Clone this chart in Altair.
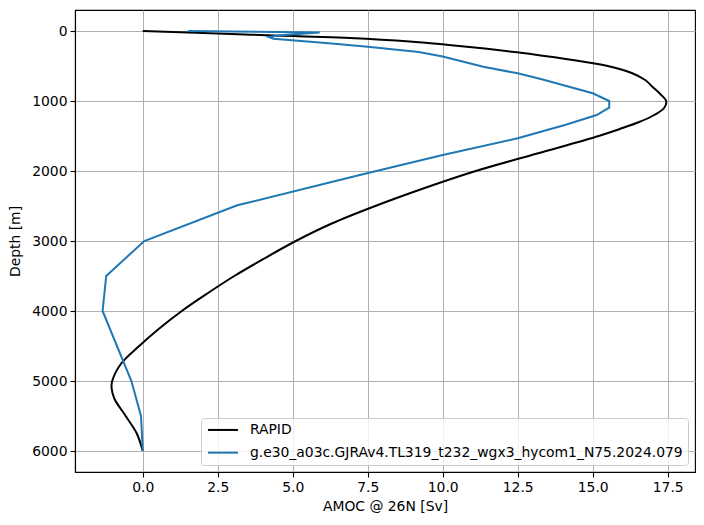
import altair as alt
import pandas as pd

# RAPID observational profile
rapid_depth = [0, 50, 100, 150, 200, 250, 300, 400, 500, 600, 700, 800, 900, 1000, 1100,
               1200, 1300, 1400, 1500, 1750, 2000, 2250, 2500, 2750, 3000, 3250, 3500,
               3750, 4000, 4250, 4500, 4750, 5000, 5100, 5250, 5500, 5750, 6000]
rapid_amoc = [0.0, 3.4, 6.9, 8.9, 10.2, 11.4, 12.4, 14.1, 15.5, 16.3, 16.75, 17.0, 17.25,
              17.45, 17.38, 17.05, 16.55, 15.9, 15.2, 13.15, 11.1, 9.35, 7.75, 6.3, 5.1,
              4.05, 3.05, 2.15, 1.3, 0.55, -0.12, -0.72, -1.02, -1.04, -0.95, -0.57, -0.2, 0.0]

# model profile
model_depth = [0, 20, 60, 85, 110, 175, 225, 300, 365, 510, 605, 690, 771, 890, 1000,
               1095, 1200, 1340, 1533, 1771, 2060, 2490, 3000, 3500, 4000, 5000, 5500, 6000]
model_amoc = [1.5, 5.9, 4.6, 4.2, 4.35, 6.2, 7.5, 9.2, 10.0, 11.35, 12.5, 13.3, 14.0,
              15.0, 15.55, 15.55, 15.13, 14.1, 12.5, 10.0, 7.2, 3.15, 0.05, -1.22, -1.34,
              -0.38, -0.06, 0.0]

names = ["RAPID", "g.e30_a03c.GJRAv4.TL319_t232_wgx3_hycom1_N75.2024.079"]
colors = ["black", "#1f77b4"]

rapid = pd.DataFrame({"amoc": rapid_amoc, "depth": rapid_depth, "series": names[0],
                      "idx": range(len(rapid_depth))})
model = pd.DataFrame({"amoc": model_amoc, "depth": model_depth, "series": names[1],
                      "idx": range(len(model_depth))})

font = "DejaVu Sans"
fs = 13.9

xenc = alt.X("amoc:Q", title="AMOC @ 26N [Sv]",
             scale=alt.Scale(domain=[-2.26, 18.41], nice=False, zero=False),
             axis=alt.Axis(values=[0, 2.5, 5, 7.5, 10, 12.5, 15, 17.5], format=".1f",
                           titlePadding=6))
yenc = alt.Y("depth:Q", title="Depth [m]",
             scale=alt.Scale(domain=[-300, 6300], nice=False, zero=False, reverse=True),
             axis=alt.Axis(values=[0, 1000, 2000, 3000, 4000, 5000, 6000], format="d",
                           titlePadding=9))
cenc = alt.Color("series:N", scale=alt.Scale(domain=names, range=colors),
                 legend=alt.Legend(title=None, orient="bottom-right", offset=7,
                                   symbolType="M-1,0H5", symbolSize=100,
                                   symbolStrokeWidth=2, labelLimit=0,
                                   labelOffset=30, rowPadding=7.7, padding=5,
                                   strokeColor="#cccccc", cornerRadius=3,
                                   fillColor="rgba(255,255,255,0.8)",
                                   labelFont=font, labelFontSize=fs, labelColor="black"))

l1 = alt.Chart(rapid).mark_line(strokeWidth=2, interpolate="catmull-rom").encode(
    x=xenc, y=yenc, color=cenc, order="idx:Q")
l2 = alt.Chart(model).mark_line(strokeWidth=2).encode(
    x=xenc, y=yenc, color=cenc, order="idx:Q")

chart = alt.layer(l1, l2).properties(
    width=620, height=462,
    background="white",
    autosize=alt.AutoSizeParams(type="none"),
    padding={"left": 75, "top": 10, "right": 9, "bottom": 53},
).configure_view(stroke="black", strokeWidth=1.1).configure_axis(
    grid=True, gridColor="#b0b0b0", gridWidth=1,
    domainColor="black", domainWidth=1.1,
    tickColor="black", tickSize=5, tickWidth=1.1,
    labelFont=font, labelFontSize=fs, labelColor="black", labelPadding=3,
    titleFont=font, titleFontSize=fs, titleColor="black", titleFontWeight="normal",
)

chart.save("out.html", embed_options={"renderer": "svg", "actions": False})
